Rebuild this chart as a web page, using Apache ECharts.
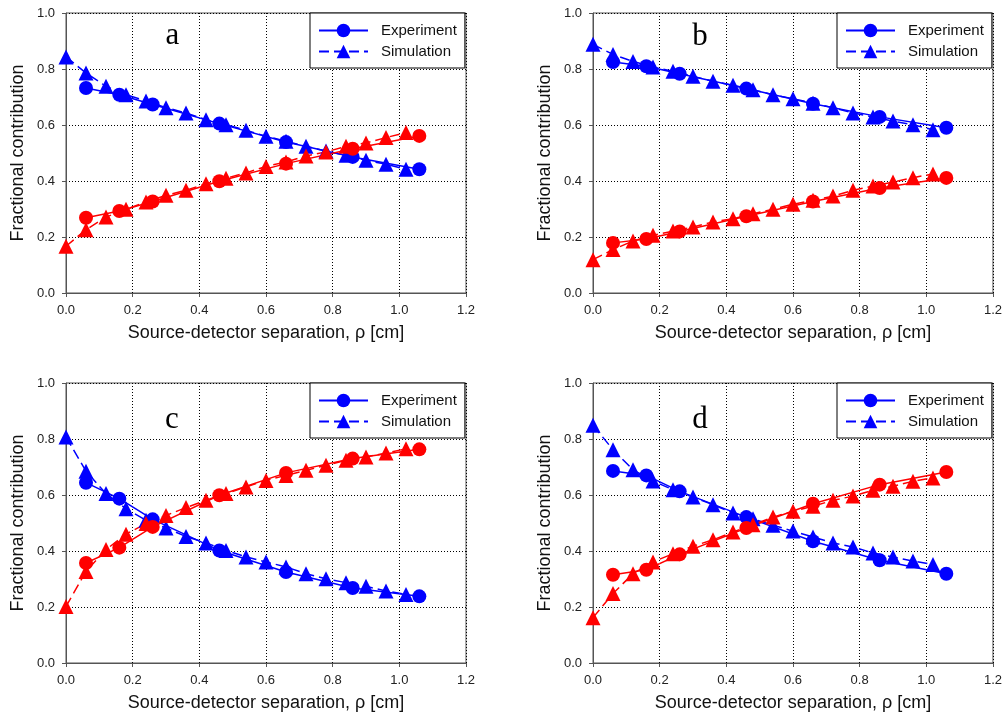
<!DOCTYPE html>
<html>
<head>
<meta charset="utf-8">
<script src="https://cdn.jsdelivr.net/npm/echarts@6/dist/echarts.min.js"></script>
<style>html,body{margin:0;padding:0;background:#fff;}#c{width:1005px;height:717px;}</style>
</head>
<body>
<div id="c"></div>
<script>
// x positions (cm)
const xExp = [0.06, 0.16, 0.26, 0.46, 0.66, 0.86, 1.06];
const xSim = [0, 0.06, 0.12, 0.18, 0.24, 0.30, 0.36, 0.42, 0.48, 0.54, 0.60, 0.66, 0.72, 0.78, 0.84, 0.90, 0.96, 1.02];
const xTicks = [0, 0.2, 0.4, 0.6, 0.8, 1.0, 1.2];
const yTicks = [0, 0.2, 0.4, 0.6, 0.8, 1.0];
const panelLabels = ['a', 'b', 'c', 'd'];

// Panel a
const aBlueExp = [0.732, 0.708, 0.673, 0.605, 0.539, 0.486, 0.442];
const aRedExp  = [0.269, 0.293, 0.327, 0.399, 0.462, 0.515, 0.561];
const aBlueSim = [0.843, 0.786, 0.738, 0.708, 0.686, 0.662, 0.643, 0.619, 0.601, 0.581, 0.560, 0.542, 0.524, 0.507, 0.492, 0.474, 0.460, 0.442];
const aRedSim  = [0.167, 0.226, 0.271, 0.299, 0.325, 0.349, 0.367, 0.390, 0.410, 0.429, 0.452, 0.468, 0.489, 0.504, 0.524, 0.536, 0.555, 0.573];
// Panel b
const bBlueExp = [0.825, 0.810, 0.783, 0.730, 0.676, 0.629, 0.590];
const bRedExp  = [0.179, 0.193, 0.220, 0.274, 0.327, 0.375, 0.411];
const bBlueSim = [0.888, 0.852, 0.827, 0.807, 0.792, 0.774, 0.756, 0.742, 0.726, 0.708, 0.694, 0.678, 0.662, 0.643, 0.629, 0.614, 0.601, 0.583];
const bRedSim  = [0.119, 0.155, 0.186, 0.206, 0.221, 0.236, 0.254, 0.265, 0.283, 0.299, 0.317, 0.331, 0.346, 0.367, 0.382, 0.396, 0.412, 0.425];
// Panel c
const cBlueExp = [0.644, 0.587, 0.513, 0.402, 0.325, 0.268, 0.238];
const cRedExp  = [0.357, 0.412, 0.486, 0.599, 0.679, 0.730, 0.763];
const cBlueSim = [0.807, 0.685, 0.605, 0.551, 0.510, 0.482, 0.452, 0.429, 0.402, 0.379, 0.361, 0.343, 0.319, 0.301, 0.287, 0.274, 0.257, 0.245];
const cRedSim  = [0.202, 0.327, 0.405, 0.460, 0.498, 0.527, 0.555, 0.581, 0.605, 0.629, 0.652, 0.670, 0.688, 0.706, 0.724, 0.736, 0.750, 0.765];
// Panel d
const dBlueExp = [0.686, 0.670, 0.613, 0.521, 0.435, 0.367, 0.319];
const dRedExp  = [0.315, 0.333, 0.388, 0.482, 0.569, 0.637, 0.682];
const dBlueSim = [0.849, 0.762, 0.690, 0.650, 0.619, 0.593, 0.565, 0.536, 0.515, 0.492, 0.471, 0.450, 0.429, 0.414, 0.393, 0.379, 0.364, 0.352];
const dRedSim  = [0.162, 0.248, 0.319, 0.361, 0.390, 0.417, 0.440, 0.468, 0.494, 0.521, 0.542, 0.560, 0.581, 0.596, 0.617, 0.631, 0.649, 0.661];

const panels = [
  {blueExp: aBlueExp, redExp: aRedExp, blueSim: aBlueSim, redSim: aRedSim},
  {blueExp: bBlueExp, redExp: bRedExp, blueSim: bBlueSim, redSim: bRedSim},
  {blueExp: cBlueExp, redExp: cRedExp, blueSim: cBlueSim, redSim: cRedSim},
  {blueExp: dBlueExp, redExp: dRedExp, blueSim: dBlueSim, redSim: dRedSim}
];

const layout = [
  {left: 66, top: 13, width: 400, height: 280, letterX: 172.5, letterY: 36},
  {left: 593, top: 13, width: 401, height: 280, letterX: 700, letterY: 37},
  {left: 66, top: 383, width: 400, height: 280, letterX: 172, letterY: 419.5},
  {left: 593, top: 383, width: 401, height: 280, letterX: 700, letterY: 419.5}
];

const BLUE = '#0000ff', RED = '#ff0000';
const zip = (xs, ys) => xs.map((x, i) => [x, ys[i]]);
const fmt = v => v.toFixed(1);
const FONT = 'Liberation Sans, Arial, sans-serif';

const grid = [], xAxis = [], yAxis = [], series = [], legend = [], graphic = [];
layout.forEach((L, i) => {
  grid.push({left: L.left, top: L.top, width: L.width, height: L.height, show: true, borderColor: '#555', borderWidth: 1, backgroundColor: 'transparent'});
  xAxis.push({
    type: 'value', gridIndex: i, min: xTicks[0], max: xTicks[xTicks.length - 1], interval: 0.2,
    name: 'Source-detector separation, ρ [cm]', nameLocation: 'middle', nameGap: 31,
    nameTextStyle: {fontFamily: FONT, fontSize: 18, color: '#111'},
    axisLine: {show: true, lineStyle: {color: '#555', width: 1}},
    axisTick: {show: true, inside: false, length: 4, lineStyle: {color: '#555'}},
    axisLabel: {formatter: fmt, fontFamily: FONT, fontSize: 13, color: '#222', margin: 11},
    splitLine: {show: true, lineStyle: {color: '#000', width: 1, type: [1, 2]}}
  });
  yAxis.push({
    type: 'value', gridIndex: i, min: yTicks[0], max: yTicks[yTicks.length - 1], interval: 0.2,
    name: 'Fractional contribution', nameLocation: 'middle', nameGap: 39,
    nameTextStyle: {fontFamily: FONT, fontSize: 18, color: '#111'},
    axisLine: {show: true, lineStyle: {color: '#555', width: 1}},
    axisTick: {show: true, inside: false, length: 4, lineStyle: {color: '#555'}},
    axisLabel: {formatter: fmt, fontFamily: FONT, fontSize: 13, color: '#222', margin: 11},
    splitLine: {show: true, lineStyle: {color: '#000', width: 1, type: [1, 2]}}
  });
  const P = panels[i];
  const mk = (name, xs, ys, color, dashed, symbol) => ({
    name, type: 'line', xAxisIndex: i, yAxisIndex: i,
    data: zip(xs, ys), symbol, symbolSize: symbol === 'circle' ? 14 : 15,
    itemStyle: {color},
    lineStyle: {color, width: 1.5, type: dashed ? [10, 5] : 'solid'},
    showSymbol: true, animation: false, z: 3
  });
  series.push(mk('Experiment', xExp, P.blueExp, BLUE, false, 'circle'));
  series.push(mk('Simulation', xSim, P.blueSim, BLUE, true, 'triangle'));
  series.push(mk('Experiment (red)', xExp, P.redExp, RED, false, 'circle'));
  series.push(mk('Simulation (red)', xSim, P.redSim, RED, true, 'triangle'));
  legend.push({
    data: ['Experiment', 'Simulation'], orient: 'vertical',
    left: L.left + 244, top: L.top,
    padding: [10, 8, 9, 8], itemWidth: 49, itemHeight: 17, itemGap: 6,
    backgroundColor: '#fff', borderColor: '#000', borderWidth: 1, borderRadius: 0,
    textStyle: {fontFamily: FONT, fontSize: 15, color: '#111', padding: [0, 0, 0, 8]},
    selectedMode: false
  });
  graphic.push({
    type: 'text', x: L.letterX, y: L.letterY, z: 10,
    style: {text: panelLabels[i], font: '31px "Liberation Serif", "Times New Roman", serif', fill: '#000', textAlign: 'center', textVerticalAlign: 'middle'}
  });
});

const chart = echarts.init(document.getElementById('c'), null, {renderer: 'canvas'});
chart.setOption({animation: false, backgroundColor: '#fff', grid, xAxis, yAxis, series, legend, graphic});
</script>
</body>
</html>
